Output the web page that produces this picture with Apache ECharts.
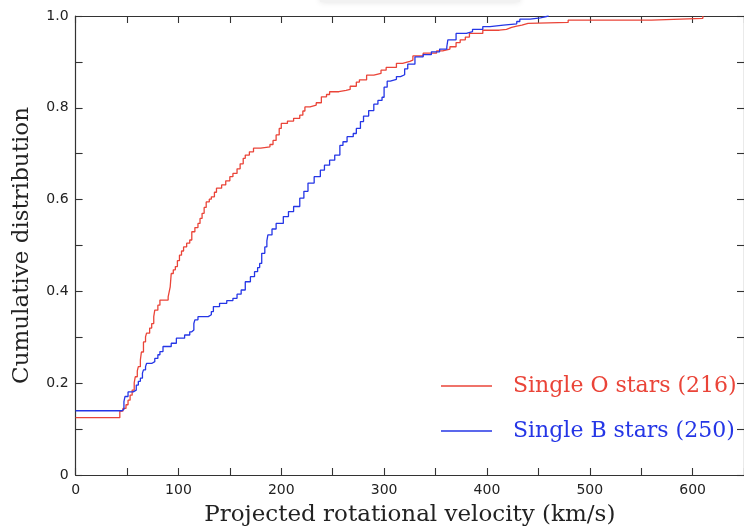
<!DOCTYPE html>
<html>
<head>
<meta charset="utf-8">
<script src="https://cdn.jsdelivr.net/npm/echarts@6/dist/echarts.min.js"></script>
<style>
  html, body { margin: 0; padding: 0; background: #fff; }
  #chart { width: 744px; height: 528px; }
</style>
</head>
<body>
<div id="chart"></div>
<script>
var myChart = echarts.init(document.getElementById('chart'))

// legend names
var seriesNames = ['Single O stars (216)', 'Single B stars (250)']

// cumulative distribution, [velocity km/s, fraction]
var oStars = [
  [0, 0.125], [43, 0.139], [46, 0.145], [49, 0.153], [51, 0.163], [53, 0.174],
  [55, 0.185], [57, 0.201], [58, 0.214], [60, 0.227], [61, 0.236], [63, 0.251],
  [64, 0.268], [66, 0.29], [68, 0.301], [69, 0.309], [72, 0.32], [74, 0.33],
  [76, 0.345], [77, 0.359], [80, 0.37], [82, 0.381], [90, 0.388], [91, 0.399],
  [92, 0.41], [93, 0.439], [95, 0.447], [97, 0.454], [99, 0.467], [101, 0.479],
  [103, 0.488], [105, 0.497], [108, 0.505], [111, 0.512], [113, 0.53], [116, 0.539],
  [119, 0.548], [121, 0.559], [123, 0.57], [125, 0.583], [127, 0.595], [130, 0.601],
  [132, 0.606], [135, 0.616], [137, 0.625], [142, 0.632], [146, 0.641], [150, 0.65],
  [153, 0.657], [157, 0.667], [160, 0.678], [163, 0.69], [165, 0.697], [169, 0.704],
  [173, 0.712], [180, 0.715], [189, 0.72], [192, 0.729], [195, 0.741], [198, 0.755],
  [200, 0.766], [206, 0.771], [212, 0.777], [218, 0.784], [221, 0.793], [223, 0.802],
  [228, 0.806], [234, 0.811], [239, 0.824], [244, 0.829], [247, 0.835], [256, 0.838],
  [263, 0.84], [267, 0.847], [273, 0.856], [276, 0.861], [283, 0.871], [290, 0.875],
  [297, 0.882], [302, 0.888], [312, 0.897], [318, 0.901], [325, 0.904], [328, 0.913],
  [338, 0.919], [351, 0.924], [357, 0.928], [364, 0.933], [370, 0.942], [374, 0.948],
  [379, 0.954], [383, 0.962], [396, 0.969], [412, 0.971], [419, 0.975], [424, 0.978],
  [429, 0.98], [434, 0.984], [440, 0.986], [479, 0.991], [560, 0.995], [610, 1.0]
]

var bStars = [
  [0, 0.14], [45, 0.143], [47, 0.16], [48, 0.171], [51, 0.181], [56, 0.185],
  [59, 0.196], [61, 0.204], [63, 0.211], [65, 0.222], [66, 0.229], [68, 0.236],
  [69, 0.243], [74, 0.247], [77, 0.254], [80, 0.262], [82, 0.269], [85, 0.28],
  [93, 0.287], [98, 0.298], [106, 0.305], [111, 0.312], [113, 0.316], [115, 0.33],
  [116, 0.338], [119, 0.345], [129, 0.349], [132, 0.356], [134, 0.367], [140, 0.374],
  [147, 0.38], [153, 0.385], [157, 0.394], [161, 0.403], [165, 0.421], [170, 0.432],
  [174, 0.443], [177, 0.452], [179, 0.461], [181, 0.483], [184, 0.497], [186, 0.51],
  [187, 0.523], [191, 0.536], [195, 0.548], [202, 0.563], [207, 0.574], [212, 0.585],
  [218, 0.603], [222, 0.618], [226, 0.636], [232, 0.65], [238, 0.664], [242, 0.675],
  [247, 0.686], [252, 0.697], [257, 0.718], [260, 0.726], [264, 0.737], [270, 0.744],
  [273, 0.755], [277, 0.77], [280, 0.782], [285, 0.794], [290, 0.808], [294, 0.816],
  [298, 0.823], [300, 0.845], [303, 0.858], [306, 0.862], [312, 0.868], [316, 0.872],
  [320, 0.885], [323, 0.895], [330, 0.911], [338, 0.916], [346, 0.922], [354, 0.928],
  [361, 0.933], [362, 0.948], [370, 0.962], [380, 0.966], [386, 0.971], [396, 0.977],
  [403, 0.98], [416, 0.983], [429, 0.988], [432, 0.993], [442, 0.996], [452, 1.0],
  [460, 1.0]
]

var xRange = [0, 650]
var yRange = [0, 1]

var red = '#ea4438'
var blue = '#2536e6'
var axisColor = '#333'

function frameAxis(extra) {
  var a = {
    type: 'value',
    axisLine: { show: true, onZero: false, lineStyle: { color: axisColor, width: 1.2 } },
    axisTick: { show: true, inside: true, length: 7, lineStyle: { color: axisColor, width: 1.1 } },
    splitLine: { show: false },
    axisLabel: { show: false }
  }
  for (var k in extra) a[k] = extra[k]
  return a
}

var option = {
  backgroundColor: '#fff',
  animation: false,
  grid: { left: 75.6, right: 0, top: 16, bottom: 53, outerBoundsMode: 'none', containLabel: false },
  graphic: [
    {
      type: 'rect',
      shape: { x: 320, y: -6, width: 200, height: 8 },
      style: { fill: '#f2f2f2', shadowBlur: 6, shadowColor: 'rgba(0,0,0,0.12)' },
      silent: true
    }
  ],
  legend: {
    orient: 'vertical',
    left: 436,
    top: 370,
    icon: 'rect',
    itemWidth: 51,
    itemHeight: 1.3,
    itemGap: 23,
    selectedMode: false,
    textStyle: { fontFamily: 'DejaVu Serif', fontSize: 22, padding: [0, 0, 0, 16] },
    data: [
      { name: seriesNames[0], itemStyle: { color: red }, textStyle: { color: red } },
      { name: seriesNames[1], itemStyle: { color: blue }, textStyle: { color: blue } }
    ]
  },
  xAxis: [
    frameAxis({
      min: xRange[0], max: xRange[1], interval: 50, position: 'bottom',
      axisLabel: {
        show: true, color: '#222', fontFamily: 'DejaVu Sans', fontSize: 14, margin: 8,
        formatter: function (v) { return v % 100 === 0 ? String(v) : '' }
      },
      name: 'Projected rotational velocity (km/s)',
      nameLocation: 'middle',
      nameGap: 29,
      nameTextStyle: { fontFamily: 'DejaVu Serif', fontSize: 23, color: '#222' }
    }),
    frameAxis({ min: xRange[0], max: xRange[1], interval: 50, position: 'top' })
  ],
  yAxis: [
    frameAxis({
      min: yRange[0], max: yRange[1], interval: 0.1, position: 'left',
      axisLabel: {
        show: true, color: '#222', fontFamily: 'DejaVu Sans', fontSize: 14, margin: 7,
        formatter: function (v) {
          var t = Math.round(v * 10)
          if (t % 2 !== 0) return ''
          return t === 0 ? '0' : (t / 10).toFixed(1)
        }
      },
      name: 'Cumulative distribution',
      nameLocation: 'middle',
      nameGap: 42,
      nameTextStyle: { fontFamily: 'DejaVu Serif', fontSize: 23, color: '#222' }
    }),
    frameAxis({ min: yRange[0], max: yRange[1], interval: 0.1, position: 'right' })
  ],
  series: [
    {
      name: seriesNames[0],
      type: 'line',
      step: 'end',
      showSymbol: false,
      symbol: 'none',
      xAxisIndex: 0,
      yAxisIndex: 0,
      lineStyle: { color: red, width: 1.3 },
      itemStyle: { color: red },
      data: oStars
    },
    {
      name: seriesNames[1],
      type: 'line',
      step: 'end',
      showSymbol: false,
      symbol: 'none',
      xAxisIndex: 0,
      yAxisIndex: 0,
      lineStyle: { color: blue, width: 1.3 },
      itemStyle: { color: blue },
      data: bStars
    }
  ]
}

myChart.setOption(option)
</script>
</body>
</html>
